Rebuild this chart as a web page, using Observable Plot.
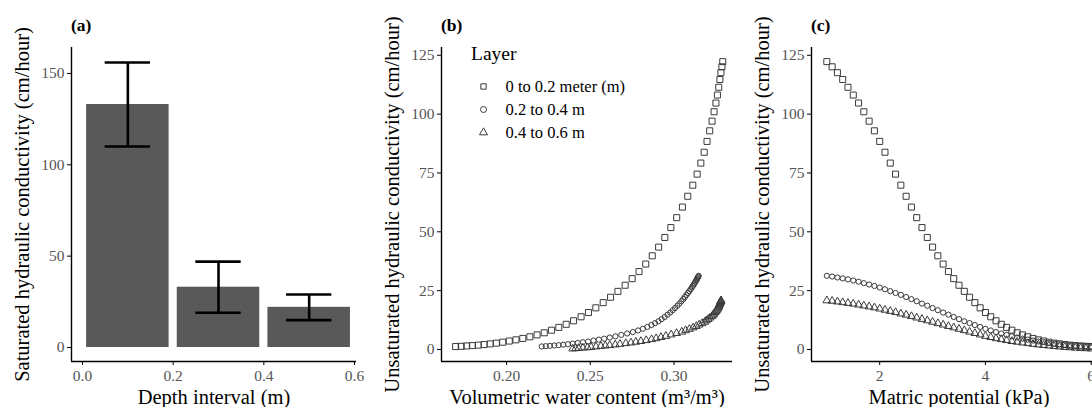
<!DOCTYPE html>
<html><head><meta charset="utf-8">
<script src="https://cdn.jsdelivr.net/npm/d3@7"></script>
<script src="https://cdn.jsdelivr.net/npm/@observablehq/plot@0.6"></script>
<style>
html,body{margin:0;padding:0;background:#fff;}
#wrap{position:relative;width:1092px;height:407px;overflow:hidden;font-family:"Liberation Serif",serif;color:#000;}
.panel{position:absolute;top:0;}
.panel svg{max-width:none !important;overflow:visible;}
.tag{position:absolute;top:17px;font-weight:bold;font-size:17.5px;line-height:1;}
.ltitle{position:absolute;font-size:19.5px;line-height:1;}
svg text{font-family:"Liberation Serif",serif;}
g[aria-label="x-axis tick label"] text, g[aria-label="y-axis tick label"] text{fill:#555;font-size:15.5px;}
g[aria-label="x-axis label"] text, g[aria-label="y-axis label"] text{fill:#000;font-size:20.5px;}
</style></head>
<body>
<div id="wrap"></div>
<script>
// ---- Panel (a): saturated hydraulic conductivity by depth interval ----
const depthMid = [0.1, 0.3, 0.5];
const ksatMean = [133, 33, 22];
const ksatLow = [110, 19, 15];
const ksatHigh = [156, 47, 29];
const depthTicks = [0, 0.2, 0.4, 0.6];
const ksatTicks = [0, 50, 100, 150];

// ---- Panels (b), (c): unsaturated hydraulic conductivity ----
const layers = ["0 to 0.2 meter (m)", "0.2 to 0.4 m", "0.4 to 0.6 m"];
const layerSymbols = ["square", "circle", "triangle"];
const matric = [1.0,1.1,1.2,1.3,1.4,1.5,1.6,1.7,1.8,1.9,
  2.0,2.1,2.2,2.3,2.4,2.5,2.6,2.7,2.8,2.9,
  3.0,3.1,3.2,3.3,3.4,3.5,3.6,3.7,3.8,3.9,
  4.0,4.1,4.2,4.3,4.4,4.5,4.6,4.7,4.8,4.9,
  5.0,5.1,5.2,5.3,5.4,5.5,5.6,5.7,5.8,5.9,6.0];
const k1 = [122.3,120.1,117.6,114.7,111.4,108.1,104.7,101.0,97.0,92.9,
  88.4,83.8,79.2,74.5,69.8,65.1,60.5,56.0,51.8,47.6,
  43.5,39.8,36.3,33.1,30.1,27.3,24.7,22.2,19.9,17.7,
  15.7,13.9,12.2,10.7,9.4,8.2,7.1,6.2,5.4,4.7,
  4.1,3.6,3.1,2.7,2.4,2.1,1.85,1.65,1.5,1.35,1.25];
const k2 = [31.3,31.0,30.6,30.2,29.8,29.3,28.8,28.2,27.6,27.0,
  26.3,25.6,24.8,24.0,23.2,22.3,21.4,20.5,19.5,18.6,
  17.6,16.7,15.7,14.8,13.8,12.9,12.0,11.2,10.4,9.6,
  8.8,8.1,7.4,6.8,6.2,5.6,5.1,4.6,4.2,3.8,
  3.4,3.1,2.8,2.5,2.25,2.05,1.85,1.7,1.55,1.42,1.3];
const k3 = [20.8,20.6,20.3,20.0,19.7,19.4,19.0,18.6,18.2,17.8,
  17.3,16.8,16.3,15.8,15.2,14.7,14.1,13.5,12.9,12.3,
  11.7,11.1,10.5,9.9,9.3,8.7,8.1,7.5,6.9,6.3,
  5.7,5.2,4.7,4.3,3.9,3.5,3.2,2.9,2.6,2.3,
  2.05,1.8,1.6,1.4,1.2,1.0,0.85,0.7,0.55,0.45,0.35];
const theta1 = [0.3291,0.3286,0.3280,0.3274,0.3267,0.3259,0.3250,0.3239,0.3227,0.3213,
  0.3197,0.3180,0.3160,0.3138,0.3112,0.3082,0.3050,0.3016,0.2981,0.2945,
  0.2908,0.2870,0.2831,0.2791,0.2750,0.2708,0.2665,0.2621,0.2577,0.2533,
  0.2489,0.2445,0.2400,0.2356,0.2312,0.2268,0.2225,0.2182,0.2139,0.2097,
  0.2056,0.2016,0.1977,0.1939,0.1902,0.1866,0.1831,0.1796,0.1762,0.1729,0.1696];
const theta2 = [0.3147,0.3145,0.3142,0.3139,0.3136,0.3132,0.3128,0.3123,0.3118,0.3112,
  0.3106,0.3099,0.3091,0.3083,0.3074,0.3065,0.3055,0.3044,0.3032,0.3020,
  0.3006,0.2992,0.2977,0.2961,0.2944,0.2926,0.2907,0.2887,0.2865,0.2841,
  0.2814,0.2785,0.2754,0.2720,0.2685,0.2650,0.2616,0.2583,0.2551,0.2519,
  0.2487,0.2456,0.2425,0.2395,0.2366,0.2338,0.2311,0.2285,0.2259,0.2234,0.2210];
const theta3 = [0.3281,0.3280,0.3278,0.3276,0.3275,0.3273,0.3271,0.3268,0.3266,0.3264,
  0.3261,0.3256,0.3251,0.3245,0.3239,0.3234,0.3226,0.3215,0.3204,0.3193,
  0.3183,0.3167,0.3150,0.3133,0.3114,0.3092,0.3069,0.3046,0.3015,0.2983,
  0.2951,0.2922,0.2893,0.2866,0.2834,0.2802,0.2772,0.2743,0.2712,0.2677,
  0.2649,0.2616,0.2590,0.2563,0.2534,0.2505,0.2483,0.2456,0.2430,0.2412,0.2395];
const kTicks = [0, 25, 50, 75, 100, 125];
const thetaTicks = [0.20, 0.25, 0.30];
const matricTicks = [2, 4, 6];

// ---- build tables ----
const bars = depthMid.map((d, i) => ({depth: d, mean: ksatMean[i], lo: ksatLow[i], hi: ksatHigh[i]}));
const kSeries = [k1, k2, k3], thetaSeries = [theta1, theta2, theta3];
const points = [];
layers.forEach((layer, li) => matric.forEach((h, j) => points.push({layer, h, k: kSeries[li][j], theta: thetaSeries[li][j]})));

const wrap = document.getElementById("wrap");
function place(node, left, top, w) {
  const d = document.createElement("div");
  d.className = "panel"; d.style.left = left + "px"; d.style.top = top + "px"; d.style.width = w + "px";
  d.appendChild(node); wrap.appendChild(d); return d;
}
function tag(text, left) {
  const d = document.createElement("div");
  d.className = "tag"; d.style.left = left + "px"; d.textContent = text; wrap.appendChild(d);
}
const H = 407, MT = 47, MB = 46, ML = 71;
const axisStroke = {stroke: "black", strokeWidth: 1.4};
const yTitleOffset = 57, xTitleOffset = 42;
const lab = {labelAnchor: "center", labelArrow: "none"};

// Panel (a)
const ax = [-0.0243, 0.6044], ay = [-7.66, 164.2];
const barHalf = 0.091, capHalf = 0.05;
place(Plot.plot({
  width: 370, height: H, marginLeft: ML, marginRight: 14, marginTop: MT, marginBottom: MB,
  x: {domain: ax}, y: {domain: ay},
  marks: [
    Plot.rectY(bars, {x1: d => d.depth - barHalf, x2: d => d.depth + barHalf, y1: 0, y2: "mean", fill: "#595959"}),
    Plot.ruleX(bars, {x: "depth", y1: "lo", y2: "hi", stroke: "black", strokeWidth: 2.6}),
    Plot.ruleY(bars, {y: "hi", x1: d => d.depth - capHalf, x2: d => d.depth + capHalf, stroke: "black", strokeWidth: 2.6}),
    Plot.ruleY(bars, {y: "lo", x1: d => d.depth - capHalf, x2: d => d.depth + capHalf, stroke: "black", strokeWidth: 2.6}),
    Plot.axisX({ticks: depthTicks, tickFormat: d3.format(".1f"), tickSize: 4, tickPadding: 4, label: "Depth interval (m)", ...lab, labelOffset: xTitleOffset}),
    Plot.axisY({ticks: ksatTicks, tickSize: 4, tickPadding: 3, label: "Saturated hydraulic conductivity (cm/hour)", ...lab, labelOffset: yTitleOffset}),
    Plot.ruleX([ax[0]], axisStroke),
    Plot.ruleY([ay[0]], axisStroke)
  ]
}), 0, 0, 370);
tag("(a)", 71);

// shared y for b and c
const ky = [-5.1, 128.3];
const dotStyle = {stroke: "#3a3a3a", strokeWidth: 1, fill: "none"};
const sizes = [3.4, 2.6, 2.9];
function dotsFor(xField) {
  return layers.map((layer, li) => Plot.dot(points.filter(p => p.layer === layer), {x: xField, y: "k", symbol: "layer", r: sizes[li], ...dotStyle}));
}

// Panel (b)
const bx = [0.16115, 0.33491];
place(Plot.plot({
  width: 370, height: H, marginLeft: ML, marginRight: 8, marginTop: MT, marginBottom: MB,
  x: {domain: bx}, y: {domain: ky},
  symbol: {domain: layers, range: layerSymbols},
  marks: [
    ...dotsFor("theta"),
    Plot.axisX({ticks: thetaTicks, tickFormat: d3.format(".2f"), tickSize: 4, tickPadding: 4, label: "Volumetric water content (m³/m³)", ...lab, labelOffset: xTitleOffset}),
    Plot.axisY({ticks: kTicks, tickSize: 4, tickPadding: 3, label: "Unsaturated hydraulic conductivity (cm/hour)", ...lab, labelOffset: yTitleOffset}),
    Plot.ruleX([bx[0]], axisStroke),
    Plot.ruleY([ky[0]], axisStroke)
  ]
}), 370, 0, 370);
tag("(b)", 441);

// legend for (b)
const lt = document.createElement("div");
lt.className = "ltitle"; lt.style.left = "471px"; lt.style.top = "44px"; lt.textContent = "Layer";
wrap.appendChild(lt);
place(Plot.plot({
  width: 170, height: 80, margin: 0,
  x: {domain: [0, 1], axis: null},
  y: {type: "point", domain: layers, range: [15, 62.4], padding: 0, axis: null},
  symbol: {domain: layers, range: layerSymbols},
  marks: [
    Plot.dot(layers, {y: d => d, frameAnchor: "left", dx: 13, symbol: d => d, r: 3, ...dotStyle}),
    Plot.text(layers, {y: d => d, frameAnchor: "left", dx: 35, text: d => d, textAnchor: "start", fontSize: 16.5, fill: "black"})
  ]
}), 470, 70, 170);

// Panel (c)
const cx = [0.71, 6.29];
place(Plot.plot({
  width: 374, height: H, marginLeft: ML, marginRight: 8, marginTop: MT, marginBottom: MB,
  x: {domain: cx}, y: {domain: ky},
  symbol: {domain: layers, range: layerSymbols},
  marks: [
    ...dotsFor("h"),
    Plot.axisX({ticks: matricTicks, tickFormat: d3.format("d"), tickSize: 4, tickPadding: 4, label: "Matric potential (kPa)", ...lab, labelOffset: xTitleOffset}),
    Plot.axisY({ticks: kTicks, tickSize: 4, tickPadding: 3, label: "Unsaturated hydraulic conductivity (cm/hour)", ...lab, labelOffset: yTitleOffset}),
    Plot.ruleX([cx[0]], axisStroke),
    Plot.ruleY([ky[0]], axisStroke)
  ]
}), 740, 0, 374);
tag("(c)", 811);
</script>
</body></html>
